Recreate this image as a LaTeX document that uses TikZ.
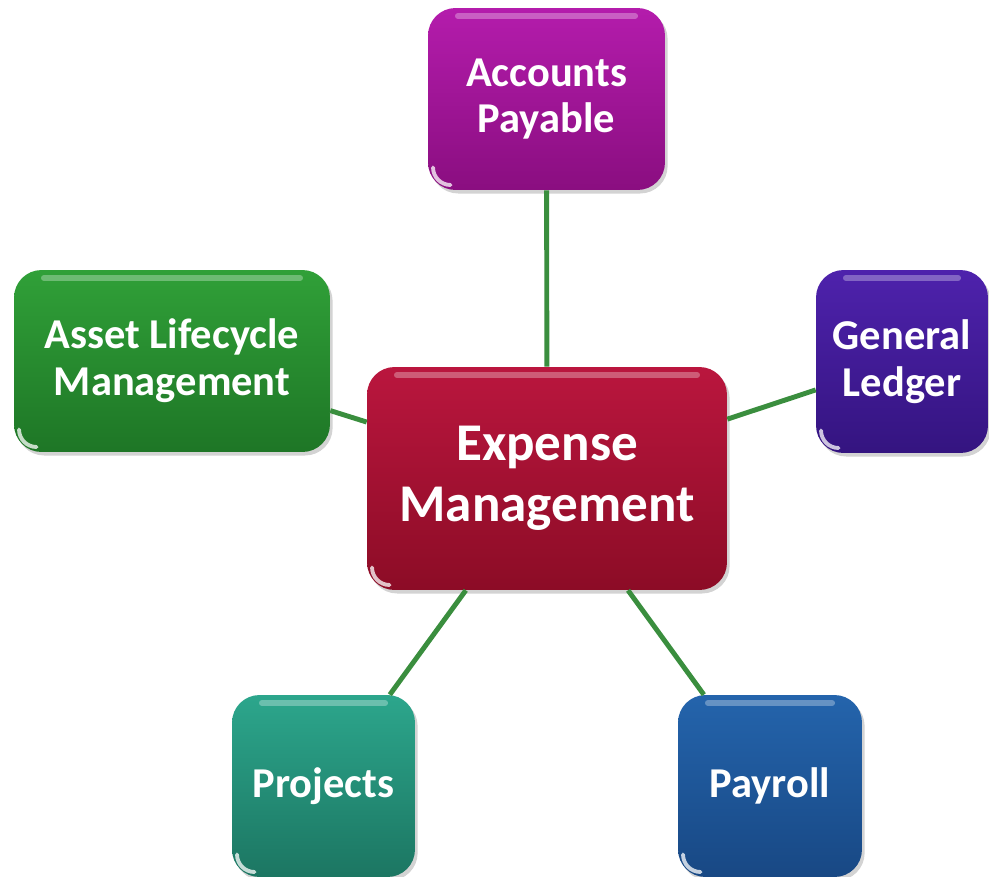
\documentclass[tikz,border=0pt]{standalone}
\usepackage{fontspec}
\setmainfont{Carlito}
\usetikzlibrary{shadows,calc}

\definecolor{linie}{RGB}{58,142,62}
\definecolor{emOben}{RGB}{186,22,62}
\definecolor{emUnten}{RGB}{140,12,38}
\definecolor{apOben}{RGB}{180,28,172}
\definecolor{apUnten}{RGB}{138,14,128}
\definecolor{glOben}{RGB}{78,34,172}
\definecolor{glUnten}{RGB}{52,20,128}
\definecolor{alOben}{RGB}{48,160,56}
\definecolor{alUnten}{RGB}{30,118,38}
\definecolor{prOben}{RGB}{44,166,140}
\definecolor{prUnten}{RGB}{28,118,98}
\definecolor{pyOben}{RGB}{36,100,172}
\definecolor{pyUnten}{RGB}{24,72,132}

\tikzset{
  kasten/.style={
    rounded corners=0.55cm, inner sep=0pt, align=center, text=white,
    font=\bfseries\fontsize{24.2}{26.6}\selectfont,
    drop shadow={shadow xshift=1.5pt, shadow yshift=-2pt, opacity=0.35},
    path picture={
      \draw[white, opacity=0.3, line width=3.5pt, line cap=round]
        ($(path picture bounding box.north west)+(0.6cm,-0.16cm)$) --
        ($(path picture bounding box.north east)+(-0.6cm,-0.16cm)$);
      \draw[white, opacity=0.75, line width=2.2pt, line cap=round]
        ($(path picture bounding box.south west)+(0.1cm,0.45cm)$)
        arc[start angle=180, end angle=270, radius=0.35cm];
    }
  },
  verbindung/.style={draw=linie, line width=2.8pt}
}

\begin{document}
\begin{tikzpicture}[x=0.02cm, y=-0.02cm]

\useasboundingbox (0,0) rectangle (989,876);

% Knoten
\node[kasten, top color=emOben, bottom color=emUnten,
  minimum width=7.2cm, minimum height=4.46cm,
  font=\bfseries\fontsize{30.2}{34.6}\selectfont]
  (em) at (547,478.5) {Expense\\Management};

\node[kasten, top color=apOben, bottom color=apUnten,
  minimum width=4.74cm, minimum height=3.64cm]
  (ap) at (546.5,99) {Accounts\\Payable};

\node[kasten, top color=alOben, bottom color=alUnten,
  minimum width=6.32cm, minimum height=3.64cm]
  (al) at (172,361) {Asset Lifecycle\\Management};

\node[kasten, top color=glOben, bottom color=glUnten,
  minimum width=3.44cm, minimum height=3.66cm]
  (gl) at (902,361.5) {General\\Ledger};

\node[kasten, top color=prOben, bottom color=prUnten,
  minimum width=3.66cm, minimum height=3.64cm]
  (pr) at (323.5,786) {Projects};

\node[kasten, top color=pyOben, bottom color=pyUnten,
  minimum width=3.68cm, minimum height=3.64cm]
  (py) at (770,786) {Payroll};

% Verbindungslinien
\foreach \ziel in {ap, al, gl, pr, py}
  \draw[verbindung] (em) -- (\ziel);

\end{tikzpicture}
\end{document}
